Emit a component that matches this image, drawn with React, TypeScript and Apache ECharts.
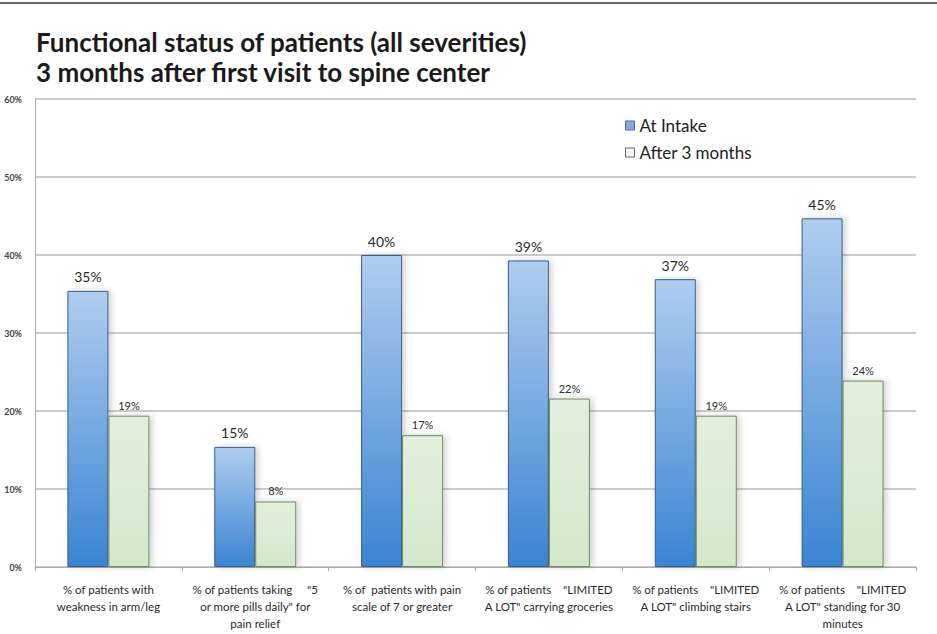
import React, { useEffect, useRef } from "react";
import * as echarts from "echarts";

const categories: string[] = [
  "% of patients with\nweakness in arm/leg",
  "% of patients taking     \"5\nor more pills daily\" for\npain relief",
  "% of  patients with pain\nscale of 7 or greater",
  "% of patients    \"LIMITED\nA LOT\" carrying groceries",
  "% of patients    \"LIMITED\nA LOT\" climbing stairs",
  "% of patients    \"LIMITED\nA LOT\" standing for 30\nminutes",
];

const atIntake: number[] = [35.4, 15.4, 40.0, 39.3, 36.9, 44.7];
const after3Months: number[] = [19.4, 8.4, 16.9, 21.6, 19.4, 23.9];

const yTicks: number[] = [0, 10, 20, 30, 40, 50, 60];

const titleLines: string[] = [
  "Functional status of patients (all severities)",
  "3 months after first visit to spine center",
];

const FONT = "Lato, 'Open Sans', sans-serif";

export default function App() {
  const ref = useRef<HTMLDivElement>(null);

  useEffect(() => {
    if (!ref.current) return;
    const chart = echarts.init(ref.current, null, { renderer: "svg" });

    const blueFill = new echarts.graphic.LinearGradient(0, 0, 0, 1, [
      { offset: 0, color: "#afcdef" },
      { offset: 1, color: "#3a84d2" },
    ]);
    const greenFill = new echarts.graphic.LinearGradient(0, 0, 0, 1, [
      { offset: 0, color: "#e2efdc" },
      { offset: 1, color: "#d4e8cc" },
    ]);

    chart.setOption({
      animation: false,
      backgroundColor: "#ffffff",
      title: {
        text: titleLines.join("\n"),
        left: 31,
        top: 22,
        textStyle: {
          fontFamily: FONT,
          fontSize: 26,
          fontWeight: "bold",
          color: "#1a1a1a",
          lineHeight: 30,
        },
      },
      legend: {
        orient: "vertical",
        left: 620,
        top: 112,
        itemWidth: 9,
        itemHeight: 9,
        itemGap: 10,
        icon: "rect",
        textStyle: { fontFamily: FONT, fontSize: 17, color: "#222" },
        data: [
          { name: "At Intake", itemStyle: { color: "#7fa9da", borderColor: "#4a6a90", borderWidth: 1 } },
          { name: "After 3 months", itemStyle: { color: "#f4f7f2", borderColor: "#666", borderWidth: 1 } },
        ],
      },
      graphic: [
        {
          type: "line",
          shape: { x1: 0, y1: 3, x2: 937, y2: 3 },
          style: { stroke: "#666", lineWidth: 2 },
        },
      ],
      grid: {
        left: 35,
        right: 21,
        top: 99,
        bottom: 67,
        containLabel: false,
        outerBoundsMode: "none",
      },
      xAxis: {
        type: "category",
        data: categories,
        axisLine: { show: true, lineStyle: { color: "#aaa", width: 1 } },
        axisTick: { show: true, length: 4, lineStyle: { color: "#aaa" } },
        axisLabel: {
          interval: 0,
          margin: 14,
          fontFamily: FONT,
          fontSize: 11.5,
          lineHeight: 17,
          color: "#2a2a2a",
        },
      },
      yAxis: {
        type: "value",
        min: yTicks[0],
        max: yTicks[yTicks.length - 1],
        interval: 10,
        axisLine: { show: true, lineStyle: { color: "#aaa" } },
        axisTick: { show: false },
        splitLine: { show: true, lineStyle: { color: "#bbbbbb", width: 1.5 } },
        axisLabel: {
          margin: 13,
          fontFamily: FONT,
          fontSize: 9,
          fontWeight: "bold",
          color: "#444",
          formatter: (v: number) => `${v}%`,
        },
      },
      series: [
        {
          name: "At Intake",
          type: "bar",
          data: atIntake,
          barWidth: 41,
          barGap: "0%",
          itemStyle: {
            color: blueFill,
            borderColor: "#3c5d84",
            borderWidth: 1,
            shadowColor: "rgba(0,0,0,0.18)",
            shadowBlur: 6,
            shadowOffsetX: 3,
            shadowOffsetY: 0,
          },
          label: {
            show: true,
            position: "top",
            distance: 7,
            fontFamily: FONT,
            fontSize: 14,
            color: "#2a2a2a",
            formatter: (p: any) => `${Math.round(p.value)}%`,
          },
        },
        {
          name: "After 3 months",
          type: "bar",
          data: after3Months,
          barWidth: 41,
          itemStyle: {
            color: greenFill,
            borderColor: "#6c8a5e",
            borderWidth: 1,
            shadowColor: "rgba(0,0,0,0.18)",
            shadowBlur: 6,
            shadowOffsetX: 3,
            shadowOffsetY: 0,
          },
          label: {
            show: true,
            position: "top",
            distance: 5,
            fontFamily: FONT,
            fontSize: 11,
            color: "#2a2a2a",
            formatter: (p: any) => `${Math.round(p.value)}%`,
          },
        },
      ],
    });

    return () => chart.dispose();
  }, []);

  return (
    <div
      ref={ref}
      style={{ width: 937, height: 634, position: "absolute", left: 0, top: 0 }}
    />
  );
}
